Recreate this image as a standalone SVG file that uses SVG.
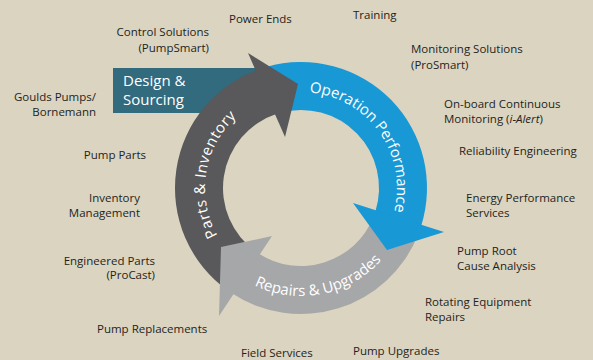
<svg xmlns="http://www.w3.org/2000/svg" width="593" height="360" viewBox="0 0 593 360">
<defs>
<style>
.lbl{font-family:"Open Sans","Noto Sans","Liberation Sans",sans-serif;font-size:11.5px;fill:#231f20}
.end{text-anchor:end}
.arc{font-family:"Open Sans","Noto Sans","Liberation Sans",sans-serif;font-size:15px;fill:#ffffff}
.dark{fill:#59595b}
.blue{fill:#1898d5}
.gray{fill:#a6a7a9}
</style>
<path id="pOp" d="M309.37,92.37 A96,96 0 0 1 388.0,228.57"/>
<path id="pParts" d="M217.44,235.27 A96,96 0 0 1 268.17,97.79"/>
<path id="pRep" d="M254.5,285.48 A108,108 0 0 0 398.88,233.64"/>
</defs>
<rect width="593" height="360" fill="#dbd4c0"/>
<g id="design-sourcing">
<rect x="113" y="68" width="152" height="45" fill="#326a7e"/>
<text x="123" y="86" class="arc">Design &amp;</text>
<text x="123" y="105" class="arc">Sourcing</text>
</g>
<g id="cycle">
<path id="shaft-parts" class="dark" d="M228.73,291.22 A126,126 0 0 1 262.06,68.16 L276.90,113.82 A78,78 0 0 0 256.26,251.90 Z"/>
<path id="shaft-operation" class="blue" d="M266.27,66.88 A126,126 0 0 1 421.17,225.89 L375.39,211.46 A78,78 0 0 0 279.50,113.02 Z"/>
<path id="shaft-repairs" class="gray" d="M417.82,235.20 A126,126 0 0 1 231.46,293.07 L257.95,253.04 A78,78 0 0 0 373.32,217.22 Z"/>
<path id="head-parts" class="dark" d="M248,53 L298,84 L285,137 Z"/>
<path id="head-operation" class="blue" d="M444,232 L387,250 L353,203 Z"/>
<path id="head-repairs" class="gray" d="M272,236 L221,247 L219,316 Z"/>
</g>
<g id="parts-inventory"><text class="arc" font-size="16" letter-spacing="0.5"><textPath href="#pParts">Parts &amp; Inventory</textPath></text></g>
<g id="operation-performance"><text class="arc"><textPath href="#pOp">Operation Performance</textPath></text></g>
<g id="repairs-upgrades"><text class="arc"><textPath href="#pRep">Repairs &amp; Upgrades</textPath></text></g>
<g id="labels">
<g id="training"><text class="lbl" x="353" y="19">Training</text></g>
<g id="power-ends"><text class="lbl" x="229" y="23">Power Ends</text></g>
<g id="control-solutions"><text class="lbl end" x="209" y="36">Control Solutions</text><text class="lbl end" x="209" y="52">(PumpSmart)</text></g>
<g id="monitoring-solutions"><text class="lbl" x="411" y="53">Monitoring Solutions</text><text class="lbl" x="411" y="69">(ProSmart)</text></g>
<g id="goulds"><text class="lbl end" x="96" y="101">Goulds Pumps/</text><text class="lbl end" x="96" y="116">Bornemann</text></g>
<g id="onboard"><text class="lbl" x="444" y="108">On-board Continuous</text><text class="lbl" x="444" y="123">Monitoring (<tspan font-style="italic">i-Alert</tspan>)</text></g>
<g id="reliability"><text class="lbl" x="459" y="155">Reliability Engineering</text></g>
<g id="pump-parts"><text class="lbl end" x="146" y="159">Pump Parts</text></g>
<g id="energy"><text class="lbl" x="466" y="202">Energy Performance</text><text class="lbl" x="466" y="217">Services</text></g>
<g id="inventory-mgmt"><text class="lbl end" x="140" y="202">Inventory</text><text class="lbl end" x="140" y="217">Management</text></g>
<g id="root-cause"><text class="lbl" x="457" y="255">Pump Root</text><text class="lbl" x="457" y="270">Cause Analysis</text></g>
<g id="engineered-parts"><text class="lbl end" x="155" y="265">Engineered Parts</text><text class="lbl end" x="155" y="279">(ProCast)</text></g>
<g id="rotating"><text class="lbl" x="425" y="306">Rotating Equipment</text><text class="lbl" x="425" y="321">Repairs</text></g>
<g id="pump-replacements"><text class="lbl" x="97" y="333">Pump Replacements</text></g>
<g id="field-services"><text class="lbl" x="241" y="357">Field Services</text></g>
<g id="pump-upgrades"><text class="lbl" x="353" y="355">Pump Upgrades</text></g>
</g>
<g id="connectors"/>
</svg>
